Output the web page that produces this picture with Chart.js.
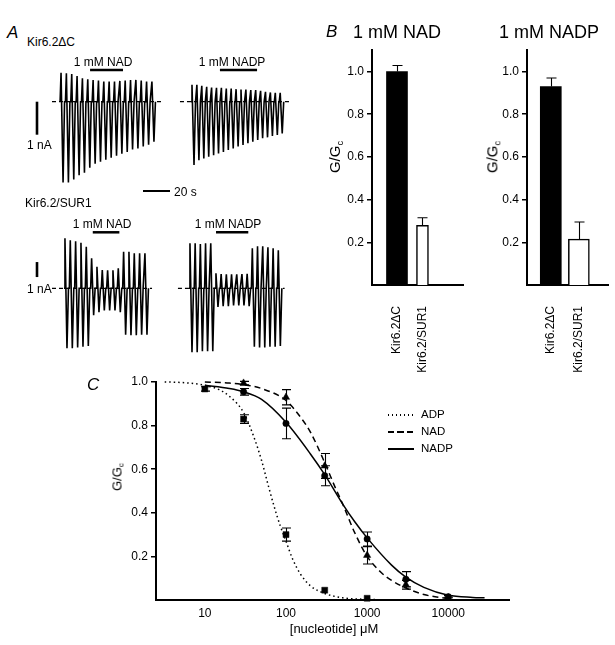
<!DOCTYPE html>
<html><head><meta charset="utf-8">
<script src="https://cdn.jsdelivr.net/npm/chart.js@4.4.1/dist/chart.umd.min.js"></script>
<style>
html,body{margin:0;padding:0;background:#fff}
body{width:615px;height:645px;position:relative;overflow:hidden;font-family:"Liberation Sans",Arial,Helvetica,sans-serif;color:#000}
canvas{position:absolute;display:block}
.t{position:absolute;white-space:nowrap;line-height:1;transform:translateY(-50%)}
.c{transform:translate(-50%,-50%)}
.v{transform:translate(-50%,-50%) rotate(-90deg)}
.sub{font-size:0.62em;position:relative;top:0.28em}
.leg{position:absolute;width:26px;height:1.5px}
</style></head><body>
<canvas id="rowA1" width="305" height="150" style="left:0;top:50px"></canvas>
<canvas id="rowA2" width="305" height="146" style="left:0;top:212px"></canvas>
<canvas id="b1" width="150" height="340" style="left:320px;top:40px"></canvas>
<canvas id="b2" width="140" height="340" style="left:475px;top:40px"></canvas>
<canvas id="c" width="415" height="275" style="left:100px;top:370px"></canvas>

<!-- Panel A text -->
<div class="t" style="left:7px;top:32px;font-size:17px;font-style:italic">A</div>
<div class="t" style="left:27px;top:42px;font-size:12px">Kir6.2ΔC</div>
<div class="t c" style="left:103px;top:62px;font-size:12px">1 mM NAD</div>
<div class="t c" style="left:232px;top:62px;font-size:12px">1 mM NADP</div>
<div class="t" style="left:27px;top:145px;font-size:12px">1 nA</div>
<div class="t" style="left:174px;top:192px;font-size:12px">20 s</div>
<div class="t" style="left:25px;top:203px;font-size:12px">Kir6.2/SUR1</div>
<div class="t c" style="left:102px;top:224px;font-size:12px">1 mM NAD</div>
<div class="t c" style="left:228px;top:224px;font-size:12px">1 mM NADP</div>
<div class="t" style="left:27px;top:289px;font-size:12px">1 nA</div>

<!-- Panel B text -->
<div class="t" style="left:326px;top:31px;font-size:17px;font-style:italic">B</div>
<div class="t" style="left:353px;top:32px;font-size:18px">1 mM NAD</div>
<div class="t" style="left:499px;top:32px;font-size:18px">1 mM NADP</div>
<div class="t v" style="left:335px;top:157px;font-size:15px">G/G<span class="sub">c</span></div>
<div class="t v" style="left:492px;top:157px;font-size:15px">G/G<span class="sub">c</span></div>

<!-- Panel C text -->
<div class="t" style="left:87px;top:384px;font-size:17px;font-style:italic">C</div>
<div class="t v" style="left:117px;top:477px;font-size:13px">G/G<span class="sub">c</span></div>
<div class="t c" style="left:334px;top:628px;font-size:13px">[nucleotide] μM</div>
<div class="leg" style="left:388px;top:414px;background:repeating-linear-gradient(to right,#000 0 1.5px,transparent 1.5px 4px)"></div>
<div class="leg" style="left:388px;top:431px;background:repeating-linear-gradient(to right,#000 0 6px,transparent 6px 9.5px)"></div>
<div class="leg" style="left:388px;top:448px;background:#000"></div>
<div class="t" style="left:421px;top:415px;font-size:11.5px">ADP</div>
<div class="t" style="left:421px;top:432px;font-size:11.5px">NAD</div>
<div class="t" style="left:421px;top:449px;font-size:11.5px">NADP</div>

<script>
// ================= DATA =================
// Panel A: peak current of each voltage ramp (nA), outward (up) and inward (down)
const dcNadUp    = [0.88,0.86,0.84,0.78,0.71,0.68,0.66,0.64,0.61,0.61,0.61,0.63,0.64,0.66,0.66,0.64,0.61,0.61];
const dcNadDown  = [2.45,2.45,2.36,2.23,2.15,2.00,1.88,1.82,1.76,1.70,1.64,1.58,1.52,1.45,1.42,1.36,1.30,1.21];
const dcNadpUp   = [0.51,0.51,0.48,0.45,0.43,0.42,0.42,0.40,0.40,0.38,0.37,0.37,0.35,0.35,0.33,0.30,0.28,0.27,0.27];
const dcNadpDown = [1.92,1.77,1.72,1.67,1.62,1.57,1.52,1.46,1.42,1.36,1.31,1.26,1.21,1.16,1.11,1.08,1.04,1.01,0.96];
const surNadUp    = [3.33,3.20,3.13,3.04,2.77,2.00,1.44,1.22,1.20,1.20,1.33,2.44,2.44,2.33,2.33,2.33];
const surNadDown  = [4.00,4.00,3.95,3.90,3.85,1.80,1.60,1.47,1.47,1.47,1.60,3.10,3.13,3.13,3.10,3.10];
const surNadpUp   = [3.00,3.00,2.95,3.00,3.00,1.00,0.95,0.93,0.93,0.93,0.95,0.97,2.67,2.80,2.80,2.73,2.67,2.53];
const surNadpDown = [4.27,4.27,4.20,4.20,4.20,1.25,1.20,1.20,1.15,1.15,1.15,1.20,3.90,3.95,3.95,3.90,3.90,3.85];
// time (s) of first ramp, ramp interval (s), recorded span and drug application
const traceStart   = [30.4, 127.4, 33.3, 125.9];
const tracePeriod  = [3.96, 3.63, 3.95, 3.85];
const baselineSpan = [[23.7,105.2],[118.5,200],[23.7,97.8],[117,196]];
const drugSpan     = [[51.9,76.3],[148.1,175.6],[53.9,73.6],[145.2,169.1]];
const timeScaleSec = 20;
const currentScaleNA = 1;

// Panel B
const bCategories = ['Kir6.2ΔC','Kir6.2/SUR1'];
const nadValues  = [1.00, 0.28];
const nadErrors  = [0.028, 0.035];
const nadpValues = [0.93, 0.215];
const nadpErrors = [0.04, 0.08];
const gTicks = [0.2, 0.4, 0.6, 0.8, 1.0];

// Panel C: fitted curves
const adpCurveX  = [3.2,5,10,15,20,30,40,50,60,70,85,100,120,150,200,300,500,1000,2500];
const adpCurveY  = [1.0,0.998,0.985,0.965,0.935,0.86,0.75,0.64,0.53,0.44,0.34,0.27,0.19,0.12,0.065,0.03,0.01,0.003,0.0];
const nadCurveX  = [10,20,30,50,100,150,200,300,400,500,700,1000,1500,2000,3000,5000,10000];
const nadCurveY  = [1.0,0.995,0.988,0.97,0.915,0.84,0.77,0.63,0.52,0.44,0.31,0.2,0.125,0.09,0.055,0.025,0.006];
const nadpCurveX = [10,20,30,50,100,200,300,500,700,1000,2000,3000,5000,10000,20000,28000];
const nadpCurveY = [0.985,0.97,0.955,0.92,0.815,0.67,0.575,0.44,0.36,0.285,0.16,0.105,0.058,0.022,0.012,0.01];
// Panel C: measured points (mean ± s.e.m.)
const adpX  = [10,30,100,300,1000];
const adpY  = [0.968,0.83,0.30,0.045,0.008];
const adpE  = [0.01,0.02,0.03,0,0];
const nadX  = [30,100,300,1000,3000,10000];
const nadY  = [0.995,0.93,0.615,0.205,0.07,0.01];
const nadE  = [0.008,0.035,0.057,0.04,0.02,0];
const nadpX = [30,100,300,1000,3000,10000];
const nadpY = [0.955,0.81,0.57,0.28,0.095,0.015];
const nadpE = [0.015,0.07,0.046,0.032,0.035,0.005];
const cXTicks = [10,100,1000,10000];

// ================= RENDER =================
Chart.defaults.font.family = '"Liberation Sans", Arial, sans-serif';
Chart.defaults.font.size = 12;
Chart.defaults.color = '#000';
Chart.defaults.animation = false;
Chart.defaults.plugins.legend.display = false;
Chart.defaults.plugins.tooltip.enabled = false;

// ---- Panel A ----
const PX_PER_S = 1.35, X0 = 20;
const upSeries = [dcNadUp, dcNadpUp, surNadUp, surNadpUp];
const downSeries = [dcNadDown, dcNadpDown, surNadDown, surNadpDown];
function pulseTrain(t0, period, up, down){
  const pts = [];
  up.forEach((u,i)=>{
    const t = t0 + i*period;
    pts.push({x:t-0.7,y:0},{x:t,y:u},{x:t+1.5,y:-down[i]},{x:t+2.6,y:0});
  });
  return pts;
}
function traceRow(id, top, height, baseY, pxPerNA, recs, annot){
  const canvas = document.getElementById(id);
  const w = canvas.width;
  const datasets = [];
  recs.forEach(r=>{
    datasets.push({data:baselineSpan[r].map(t=>({x:t,y:0})), borderColor:'#000', borderWidth:1.2, borderDash:[4,3], pointRadius:0});
    datasets.push({data:pulseTrain(traceStart[r], tracePeriod[r], upSeries[r], downSeries[r]), borderColor:'#000', borderWidth:1.6, pointRadius:0, tension:0});
  });
  const plugin = {id:'annot'+id, afterDatasetsDraw(chart){
    const {ctx, scales:{x,y}} = chart;
    ctx.save(); ctx.strokeStyle='#000'; ctx.lineCap='butt';
    ctx.lineWidth = 2.5;
    recs.forEach(r=>{
      ctx.beginPath();
      ctx.moveTo(x.getPixelForValue(drugSpan[r][0]), annot.drugY);
      ctx.lineTo(x.getPixelForValue(drugSpan[r][1]), annot.drugY);
      ctx.stroke();
    });
    ctx.lineWidth = 2.6;
    ctx.beginPath();
    ctx.moveTo(annot.barX, y.getPixelForValue(annot.nAFrom));
    ctx.lineTo(annot.barX, y.getPixelForValue(annot.nAFrom + annot.nADir*currentScaleNA));
    ctx.stroke();
    if (annot.secFrom !== undefined){
      ctx.lineWidth = 2;
      ctx.beginPath();
      ctx.moveTo(x.getPixelForValue(annot.secFrom), annot.secY);
      ctx.lineTo(x.getPixelForValue(annot.secFrom + timeScaleSec), annot.secY);
      ctx.stroke();
    }
    ctx.restore();
  }};
  new Chart(canvas, {
    type:'line',
    data:{datasets},
    options:{responsive:false,
      layout:{padding:0},
      elements:{line:{borderJoinStyle:'miter'}},
      scales:{
        x:{type:'linear', display:false, min:(0-X0)/PX_PER_S, max:(w-X0)/PX_PER_S},
        y:{type:'linear', display:false, min:-(top+height-baseY)/pxPerNA, max:(baseY-top)/pxPerNA}
      }},
    plugins:[plugin]
  });
}
traceRow('rowA1', 50, 150, 101.7, 33, [0,1], {drugY:20, barX:37, nAFrom:0, nADir:-1, secFrom:91.1, secY:141});
traceRow('rowA2', 212, 146, 288.3, 15, [2,3], {drugY:20.3, barX:37, nAFrom:0.75, nADir:1});

// ---- error bar helper ----
function errPlugin(id, sets, cap, upOnly){
  return {id:'err'+id, afterDatasetsDraw(chart){
    const {ctx, scales:{x,y}} = chart;
    ctx.save(); ctx.strokeStyle='#000'; ctx.lineWidth=1.1;
    sets.forEach(s=>{
      s.x.forEach((xv,i)=>{
        const e = s.e[i]; if(!e) return;
        const px = Math.round(x.getPixelForValue(xv))+0.5;
        const yt = y.getPixelForValue(s.y[i]+e);
        const yb = y.getPixelForValue(upOnly ? s.y[i] : s.y[i]-e);
        ctx.beginPath();
        ctx.moveTo(px,yt); ctx.lineTo(px,yb);
        ctx.moveTo(px-cap/2,yt); ctx.lineTo(px+cap/2,yt);
        if(!upOnly){ ctx.moveTo(px-cap/2,yb); ctx.lineTo(px+cap/2,yb); }
        ctx.stroke();
      });
    });
    ctx.restore();
  }};
}

// ---- Panel B ----
function barChart(id, values, errors, xMin, xMax, thickness, yWidth, padRight){
  const datasets = values.map((v,i)=>({
    data:[{x:i+1,y:v}],
    backgroundColor: i===0 ? '#000' : '#fff',
    borderColor:'#000', borderWidth: i===0 ? 0 : 1.5,
    barThickness: thickness[i], grouped:false, borderSkipped:'bottom'
  }));
  new Chart(document.getElementById(id), {
    type:'bar',
    data:{datasets},
    options:{responsive:false,
      layout:{padding:{top:10, right:padRight, left:0, bottom:0}},
      scales:{
        x:{type:'linear', offset:false, min:xMin, max:xMax,
           grid:{display:false, drawTicks:false},
           border:{display:true, color:'#000', width:2},
           ticks:{autoSkip:false, minRotation:90, maxRotation:90, padding:21, color:'#000', font:{size:12},
                  callback:(v)=>bCategories[Math.round(v)-1] || ''},
           afterBuildTicks:(s)=>{ s.ticks = bCategories.map((c,i)=>({value:i+1})); },
           afterFit:(s)=>{ s.height = 95; }},
        y:{type:'linear', min:0, max:1.1,
           grid:{drawOnChartArea:false, drawTicks:true, tickLength:5, color:'#000', lineWidth:1.5},
           border:{color:'#000', width:2},
           ticks:{padding:3, color:'#000', font:{size:12}, callback:(v)=>v.toFixed(1)},
           afterBuildTicks:(s)=>{ s.ticks = gTicks.map(v=>({value:v})); },
           afterFit:(s)=>{ s.width = yWidth; }}
      }},
    plugins:[errPlugin(id,[{x:values.map((v,i)=>i+1), y:values, e:errors}], 10, true)]
  });
}
barChart('b1', nadValues, nadErrors, 0.02, 3.59, [21,12], 52, 7);
barChart('b2', nadpValues, nadpErrors, 0.153, 3.07, [21,21], 52, 2);

// ---- Panel C ----
const zip = (xs,ys)=>xs.map((x,i)=>({x, y:ys[i]}));
const curve = (xs,ys,dash)=>({data:zip(xs,ys), borderColor:'#000', borderWidth:1.5, borderDash:dash, pointRadius:0,
  tension:0.4, cubicInterpolationMode:'monotone', clip:false, borderCapStyle:'butt'});
const marks = (xs,ys,style,r)=>({data:zip(xs,ys), showLine:false, pointStyle:style, pointRadius:r,
  pointBackgroundColor:'#000', pointBorderColor:'#000', pointBorderWidth:0.5, clip:false});
new Chart(document.getElementById('c'), {
  type:'line',
  data:{datasets:[
    curve(adpCurveX, adpCurveY, [1.5,3]),
    curve(nadCurveX, nadCurveY, [6,4]),
    curve(nadpCurveX, nadpCurveY, []),
    marks(adpX, adpY, 'rect', 4.2),
    marks(nadX, nadY, 'triangle', 4.2),
    marks(nadpX, nadpY, 'circle', 3.2)
  ]},
  options:{responsive:false,
    layout:{padding:{top:12, right:6, left:0, bottom:0}},
    scales:{
      x:{type:'logarithmic', min:2.5, max:56000,
         grid:{display:false, drawTicks:false},
         border:{display:true, color:'#000', width:2},
         ticks:{padding:6, color:'#000', font:{size:12}, autoSkip:false, maxRotation:0,
                callback:(v)=>String(v)},
         afterBuildTicks:(s)=>{ s.ticks = cXTicks.map(v=>({value:v})); },
         afterFit:(s)=>{ s.height = 45; }},
      y:{type:'linear', min:0, max:1.0,
         grid:{drawOnChartArea:false, drawTicks:true, tickLength:5, color:'#000', lineWidth:1.5},
         border:{color:'#000', width:2},
         ticks:{padding:3, color:'#000', font:{size:12}, callback:(v)=>v.toFixed(1)},
         afterBuildTicks:(s)=>{ s.ticks = gTicks.map(v=>({value:v})); },
         afterFit:(s)=>{ s.width = 56; }}
    }},
  plugins:[errPlugin('c',[{x:adpX,y:adpY,e:adpE},{x:nadX,y:nadY,e:nadE},{x:nadpX,y:nadpY,e:nadpE}], 9, false)]
});
</script>
</body></html>
